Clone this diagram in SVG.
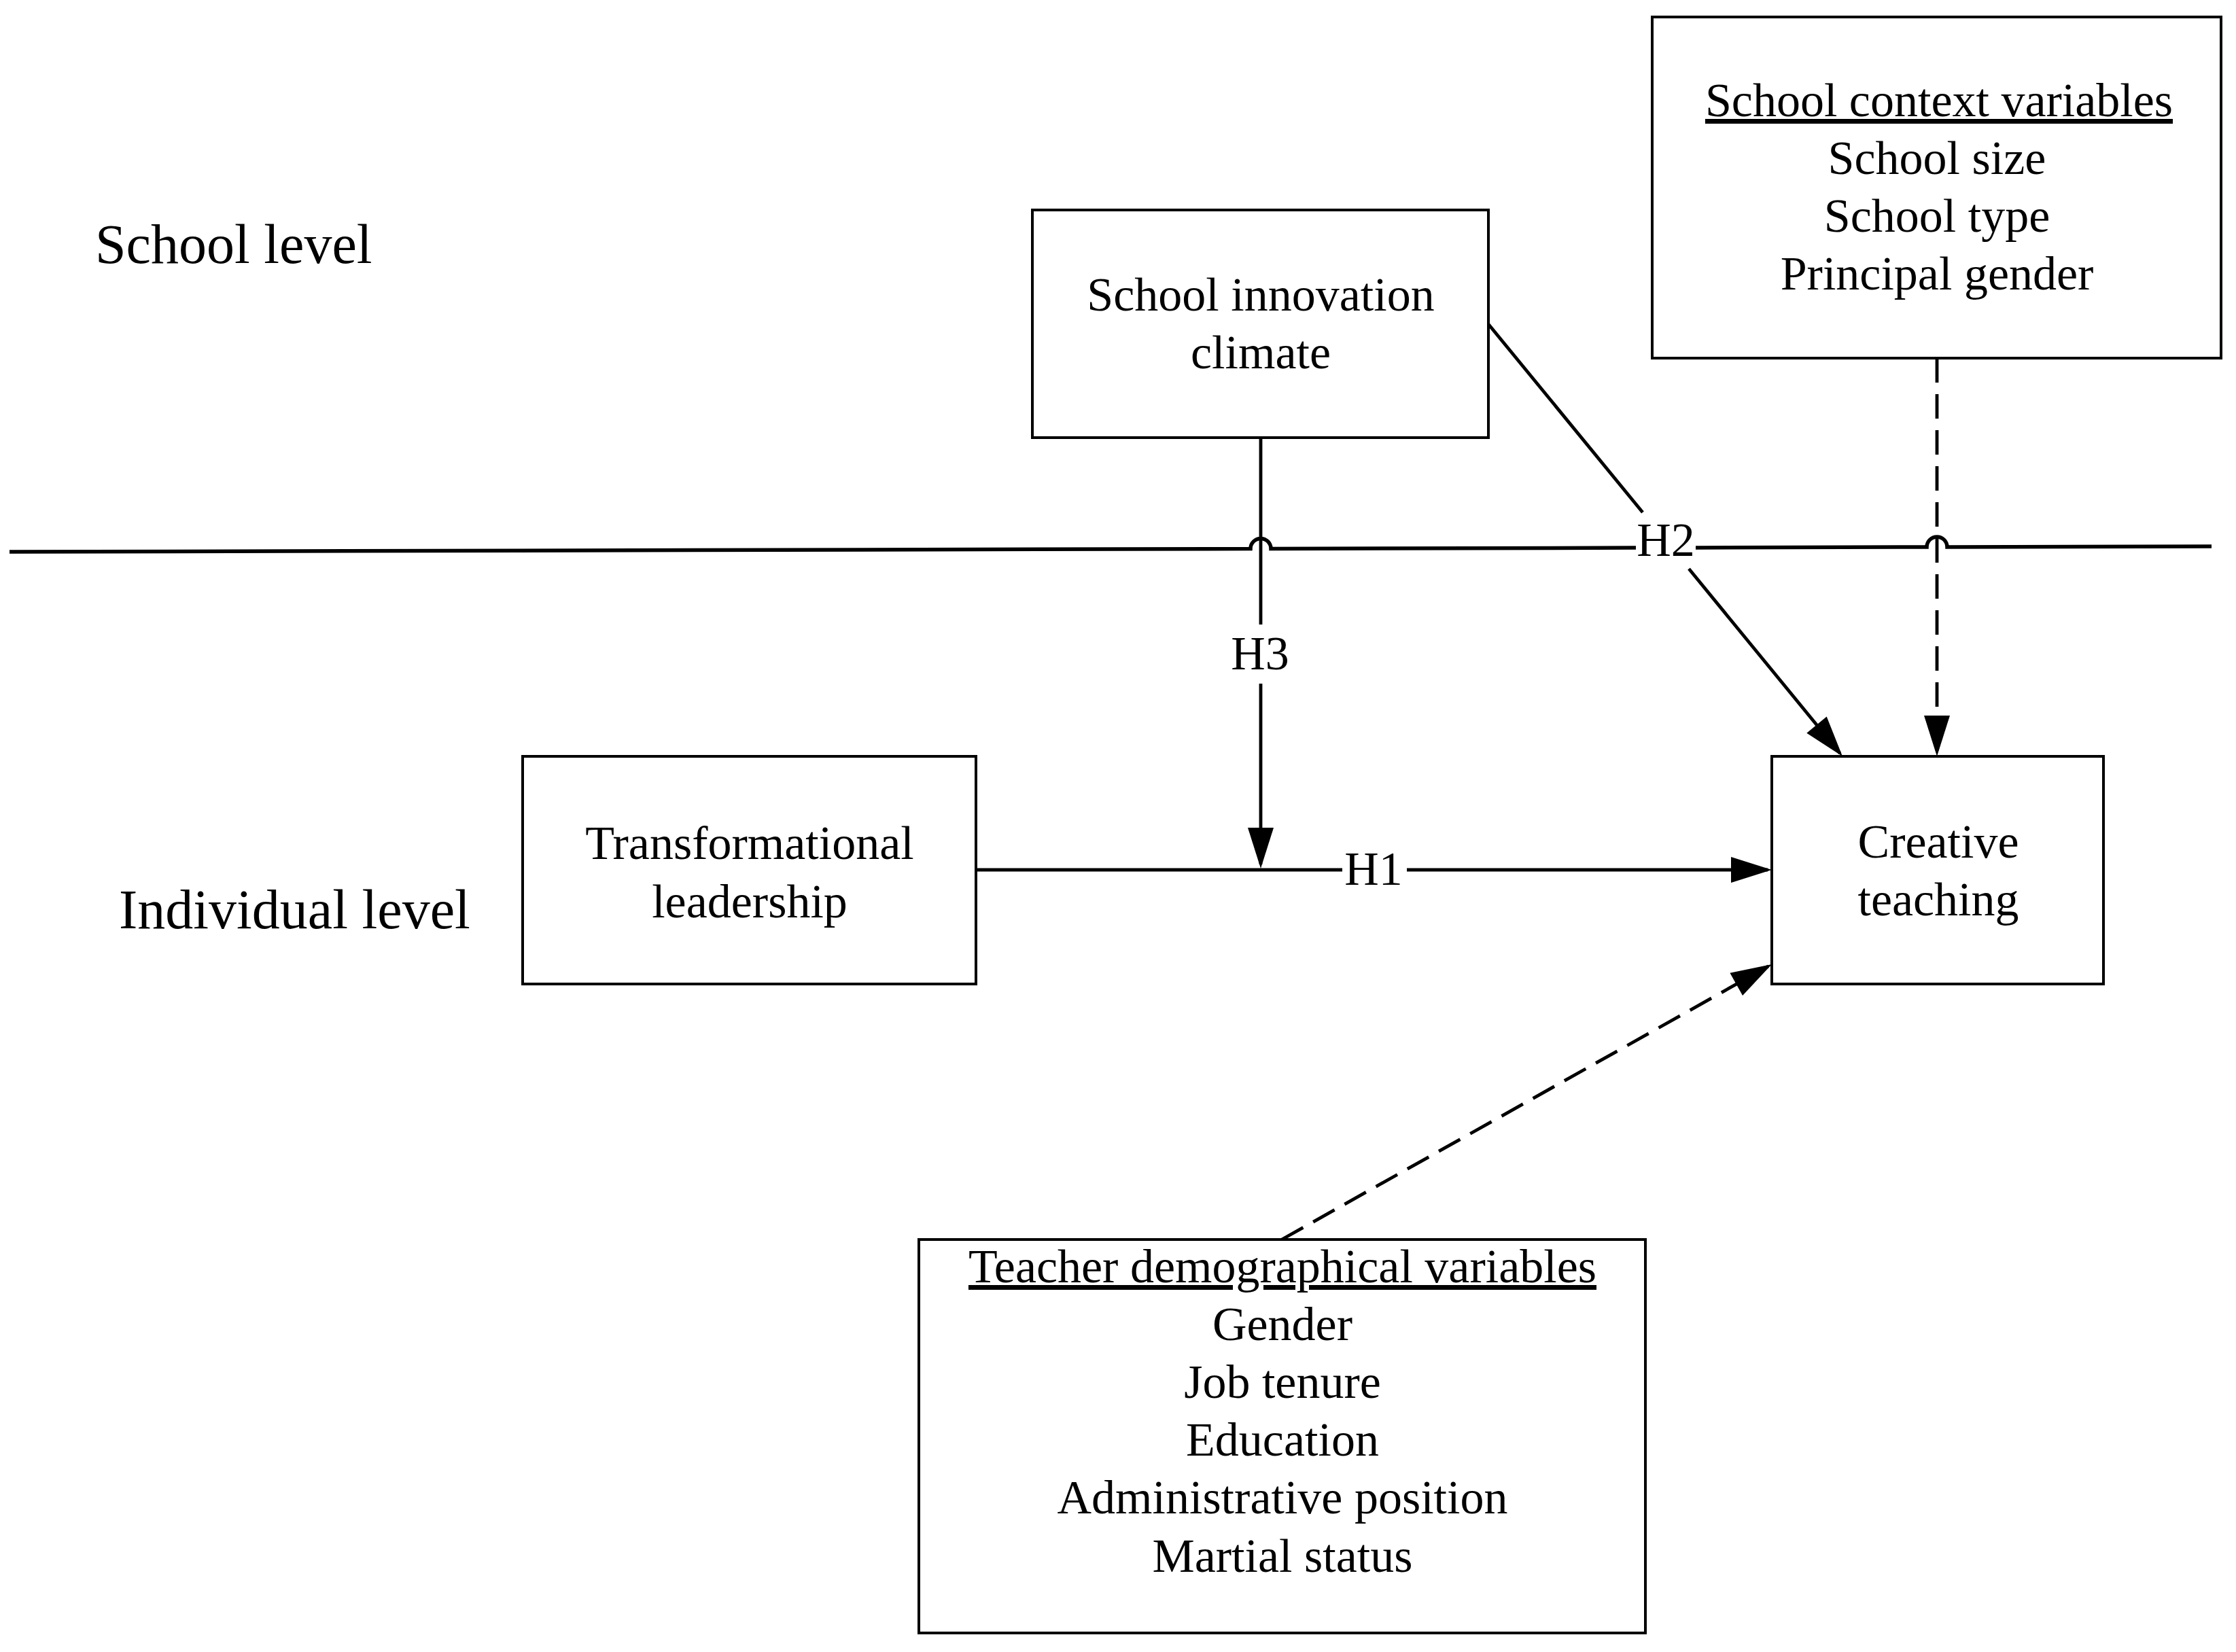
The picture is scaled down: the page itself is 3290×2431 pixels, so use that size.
<svg xmlns="http://www.w3.org/2000/svg" width="3290" height="2431" viewBox="0 0 3290 2431">
<style>
  .box { fill: #ffffff; stroke: #000000; stroke-width: 4; }
  .t { font-family: "Liberation Serif", "Times New Roman", serif; font-size: 70px; fill: #000000; text-anchor: middle; }
  .lvl { font-family: "Liberation Serif", "Times New Roman", serif; font-size: 82px; fill: #000000; }
  .u { text-decoration: underline; }
  .conn { fill: none; stroke: #000000; stroke-width: 4.8; }
  .dash { stroke-dasharray: 36 17; }
  .sep { fill: none; stroke: #000000; stroke-width: 5.5; }
</style>
<defs>
  <marker id="arrow" markerUnits="userSpaceOnUse" viewBox="0 0 60 38" markerWidth="60" markerHeight="38" refX="54" refY="19" orient="auto" overflow="visible">
    <path d="M0,0 L60,19 L0,38 z" fill="#000000"/>
  </marker>
</defs>
<rect x="0" y="0" width="3290" height="2431" fill="#ffffff"/>

<g id="level-labels">
  <text class="lvl" x="140" y="387">School level</text>
  <text class="lvl" x="175" y="1366">Individual level</text>
</g>

<g id="separator">
  <path class="sep" d="M14,812 L1840,807.5 A15,15 0 0 1 1870,807.4 L2407,806.1 M2495,805.9 L2835,805 A15,15 0 0 1 2865,805 L3254,804"/>
</g>

<g id="connectors">
  <path id="h1" class="conn" d="M1436,1280 H1975 M2070,1280 H2601" marker-end="url(#arrow)"/>
  <path id="h3" class="conn" d="M1855,644 V919 M1855,1006 V1272" marker-end="url(#arrow)"/>
  <path id="h2" class="conn" d="M2190,477 L2417,754 M2485,837 L2707.2,1108.4" marker-end="url(#arrow)"/>
  <path id="ctx" class="conn dash" d="M2850,527 V1107" marker-end="url(#arrow)"/>
  <path id="demo" class="conn dash" d="M1886,1824 L2601.8,1421.9" marker-end="url(#arrow)"/>
  <text class="t" x="2021" y="1302">H1</text>
  <text class="t" x="2451" y="818">H2</text>
  <text class="t" x="1854" y="985">H3</text>
</g>

<g id="school-innovation-climate">
  <rect class="box" x="1519" y="309" width="671" height="335"/>
  <text class="t" x="1855" y="457">School innovation</text>
  <text class="t" x="1855" y="542">climate</text>
</g>

<g id="school-context-variables">
  <rect class="box" x="2431" y="25" width="837" height="502"/>
  <text class="t u" x="2853" y="171">School context variables</text>
  <text class="t" x="2850" y="256">School size</text>
  <text class="t" x="2850" y="341">School type</text>
  <text class="t" x="2850" y="426">Principal gender</text>
</g>

<g id="transformational-leadership">
  <rect class="box" x="769" y="1113" width="667" height="335"/>
  <text class="t" x="1103" y="1264">Transformational</text>
  <text class="t" x="1103" y="1350">leadership</text>
</g>

<g id="creative-teaching">
  <rect class="box" x="2607" y="1113" width="488" height="335"/>
  <text class="t" x="2852" y="1262">Creative</text>
  <text class="t" x="2852" y="1347">teaching</text>
</g>

<g id="teacher-demographical-variables">
  <rect class="box" x="1352" y="1824" width="1069" height="579"/>
  <text class="t u" x="1887" y="1887">Teacher demographical variables</text>
  <text class="t" x="1887" y="1972">Gender</text>
  <text class="t" x="1887" y="2057">Job tenure</text>
  <text class="t" x="1887" y="2142">Education</text>
  <text class="t" x="1887" y="2227">Administrative position</text>
  <text class="t" x="1887" y="2313">Martial status</text>
</g>
</svg>
